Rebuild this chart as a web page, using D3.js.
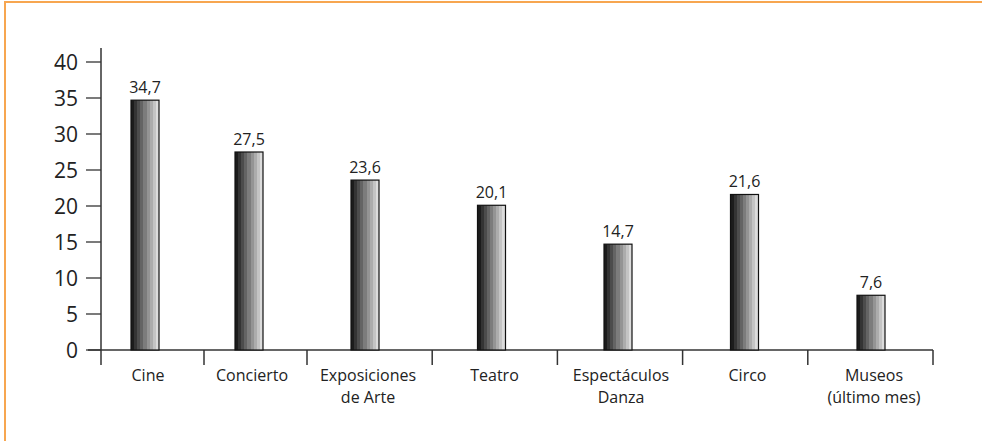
<!DOCTYPE html>
<html>
<head>
<meta charset="utf-8">
<script src="https://cdn.jsdelivr.net/npm/d3@7"></script>
<style>
  html, body { margin: 0; padding: 0; background: #fff; }
  svg { display: block; font-family: "Open Sans", "Noto Sans", sans-serif; }
</style>
</head>
<body>
<div id="chart"></div>
<script>
// categories, values and y ticks
var categories = ['Cine', 'Concierto', 'Exposiciones\nde Arte', 'Teatro', 'Espectáculos\nDanza', 'Circo', 'Museos\n(último mes)'];
var values = [34.7, 27.5, 23.6, 20.1, 14.7, 21.6, 7.6];
var yTicks = [0, 5, 10, 15, 20, 25, 30, 35, 40];

drawChart();

function drawChart() {
  var width = 982, height = 441;
  var svg = d3.select('#chart').append('svg')
    .attr('width', width)
    .attr('height', height);

  // orange frame on top and left
  svg.append('line').attr('x1', 4).attr('x2', width).attr('y1', 2).attr('y2', 2)
    .attr('stroke', '#f7a650').attr('stroke-width', 2);
  svg.append('line').attr('x1', 5).attr('x2', 5).attr('y1', 1).attr('y2', height)
    .attr('stroke', '#f7a650').attr('stroke-width', 2);

  // stepped grey gradient for the bars
  var defs = svg.append('defs');
  var grad = defs.append('linearGradient').attr('id', 'barGrad')
    .attr('x1', '0%').attr('x2', '100%').attr('y1', '0%').attr('y2', '0%');
  var steps = 9;
  var shade = d3.interpolateRgb('#1c1c1c', '#dcdcdc');
  d3.range(steps).forEach(function (i) {
    var c = shade(i / (steps - 1));
    grad.append('stop').attr('offset', (i / steps * 100) + '%').attr('stop-color', c);
    grad.append('stop').attr('offset', ((i + 1) / steps * 100) + '%').attr('stop-color', c);
  });

  // band edges: first two categories are narrower than the rest
  var edge = d3.scaleLinear().domain([0, 2, categories.length]).range([101, 307, 933]);
  // bar centres sit a little off the band middles in the original
  var center = d3.scaleLinear().domain([0, 1, 2, 6]).range([145, 249, 365, 871]);
  var y = d3.scaleLinear().domain([0, 40]).range([350, 62]);
  var barW = 28;
  var axisColor = '#333';

  // y axis
  svg.append('line').attr('x1', 101).attr('x2', 101).attr('y1', 48).attr('y2', 365)
    .attr('stroke', axisColor).attr('stroke-width', 1.5);
  var yt = svg.selectAll('.ytick').data(yTicks).join('g').attr('class', 'ytick')
    .attr('transform', function (d) { return 'translate(0,' + y(d) + ')'; });
  yt.append('line').attr('x1', 86).attr('x2', 101).attr('stroke', axisColor).attr('stroke-width', 1.3);
  yt.append('text').attr('x', 78).attr('dy', '0.36em').attr('text-anchor', 'end')
    .attr('font-size', 21).attr('fill', '#222').text(function (d) { return d; });

  // x axis
  svg.append('line').attr('x1', 88).attr('x2', 933).attr('y1', y(0)).attr('y2', y(0))
    .attr('stroke', axisColor).attr('stroke-width', 1.5);
  svg.selectAll('.xtick').data(d3.range(1, categories.length + 1)).join('line').attr('class', 'xtick')
    .attr('x1', function (i) { return edge(i); }).attr('x2', function (i) { return edge(i); })
    .attr('y1', y(0)).attr('y2', 365)
    .attr('stroke', axisColor).attr('stroke-width', 1.5);

  // bars
  svg.selectAll('.bar').data(values).join('rect').attr('class', 'bar')
    .attr('x', function (d, i) { return center(i) - barW / 2; })
    .attr('y', function (d) { return y(d); })
    .attr('width', barW)
    .attr('height', function (d) { return y(0) - y(d); })
    .attr('fill', 'url(#barGrad)')
    .attr('stroke', '#111').attr('stroke-width', 1.2);

  // value labels
  svg.selectAll('.val').data(values).join('text').attr('class', 'val')
    .attr('x', function (d, i) { return center(i); })
    .attr('y', function (d) { return y(d) - 7; })
    .attr('text-anchor', 'middle').attr('font-size', 16).attr('fill', '#222')
    .text(function (d) { return d3.format('.1f')(d).replace('.', ','); });

  // category labels (two-line ones drawn as separate lines)
  svg.selectAll('.cat').data(categories).join('g').attr('class', 'cat')
    .each(function (d, i) {
      var g = d3.select(this);
      d.split('\n').forEach(function (line, k) {
        g.append('text').attr('x', center(i) + 3).attr('y', 381 + k * 22)
          .attr('text-anchor', 'middle').attr('font-size', 16).attr('fill', '#222')
          .text(line);
      });
    });
}
</script>
</body>
</html>
